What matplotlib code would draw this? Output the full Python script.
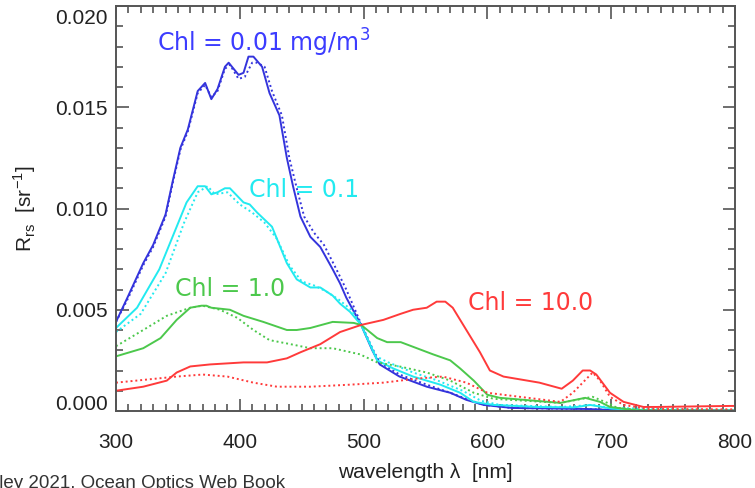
import matplotlib
matplotlib.use("Agg")
import matplotlib.pyplot as plt
from matplotlib.ticker import MultipleLocator
from matplotlib.transforms import ScaledTranslation

# ---------------- data ----------------
wl_blue = [300, 310, 322, 330, 340, 346, 352, 358, 366, 372, 377, 382, 388, 391, 399, 403, 407, 411,
           418, 424, 432, 438, 443, 449, 457, 465, 475, 481, 486, 498, 507, 513, 529, 551, 570,
           583, 597, 620, 680, 700, 800]
rrs_blue = [0.0044, 0.0057, 0.0073, 0.0082, 0.0097, 0.0114, 0.0130, 0.0139, 0.0158, 0.0162, 0.0154,
            0.0159, 0.0170, 0.0172, 0.0166, 0.0167, 0.0175, 0.0175, 0.0170, 0.0157, 0.0146, 0.0125,
            0.0111, 0.0096, 0.0086, 0.0081, 0.0070, 0.0063, 0.0056, 0.00425, 0.0030, 0.0023,
            0.0017, 0.0012, 0.0009, 0.00055, 0.0003, 0.00015, 0.0001, 0.00005, 0.00002]

wl_blue_d = [300, 310, 322, 330, 340, 346, 352, 358, 366, 372, 377, 382, 388, 392, 399, 404, 410,
             414, 420, 426, 434, 440, 446, 452, 460, 468, 478, 486, 498, 507, 513, 529, 551, 570,
             583, 597, 620, 680, 700, 800]
rrs_blue_d = [0.0044, 0.0056, 0.0072, 0.0081, 0.0096, 0.0113, 0.0129, 0.0138, 0.0157, 0.0161,
              0.0155, 0.0158, 0.0169, 0.0171, 0.0164, 0.0165, 0.0172, 0.0172, 0.0170, 0.0158,
              0.0146, 0.0125, 0.0110, 0.0096, 0.0088, 0.0082, 0.0070, 0.0060, 0.0043, 0.0031,
              0.0024, 0.0018, 0.0013, 0.0009, 0.0006, 0.0003, 0.00015, 0.0001, 0.00005, 0.00002]

wl_cyan = [300, 317, 335, 349, 357, 366, 372, 377, 382, 388, 392, 403, 408, 414, 426, 430, 438,
           446, 457, 465, 475, 481, 489, 498, 511, 524, 540, 562, 578, 589, 605, 640, 670, 683,
           700, 720, 800]
rrs_cyan = [0.0041, 0.0051, 0.0070, 0.0091, 0.0103, 0.0111, 0.0111, 0.0107, 0.0108, 0.0110, 0.0110,
            0.0103, 0.0102, 0.0098, 0.0091, 0.0085, 0.0073, 0.0065, 0.0061, 0.0061, 0.0057, 0.0053,
            0.0049, 0.00425, 0.0025, 0.0021, 0.0017, 0.0013, 0.0009, 0.00045, 0.0003, 0.0002,
            0.00018, 0.0003, 0.00012, 0.00005, 0.00003]

wl_cyan_d = [300, 320, 340, 355, 366, 374, 380, 390, 400, 410, 420, 430, 440, 450, 460, 470, 480,
             490, 498, 510, 520, 540, 560, 580, 595, 610, 660, 685, 700, 800]
rrs_cyan_d = [0.0039, 0.0048, 0.0068, 0.0093, 0.0108, 0.0111, 0.0107, 0.0108, 0.0102, 0.0098,
              0.0093, 0.0085, 0.0072, 0.0064, 0.0062, 0.0059, 0.0055, 0.0050, 0.0043, 0.0027,
              0.0024, 0.0019, 0.0015, 0.0010, 0.0005, 0.0003, 0.0002, 0.0003, 0.00015, 0.00003]

wl_green = [300, 322, 336, 349, 360, 369, 373, 377, 392, 403, 419, 438, 446, 457, 475, 492, 498,
            511, 519, 530, 543, 556, 570, 578, 589, 600, 610, 659, 679, 691, 699, 720, 800]
rrs_green = [0.0027, 0.0031, 0.0036, 0.0045, 0.0051, 0.0052, 0.0052, 0.0051, 0.0050, 0.0047,
             0.0044, 0.0040, 0.0040, 0.0041, 0.0044, 0.00435, 0.00425, 0.0036, 0.0034, 0.0034,
             0.0031, 0.0028, 0.0025, 0.0021, 0.0015, 0.0008, 0.00065, 0.0004, 0.00065, 0.00045,
             0.0002, 0.00003, 0.00002]

wl_green_d = [300, 322, 341, 360, 370, 384, 398, 411, 424, 441, 457, 475, 497, 511, 529, 551, 570,
              589, 605, 659, 685, 697, 705, 730, 800]
rrs_green_d = [0.0032, 0.0040, 0.0047, 0.0051, 0.0052, 0.0050, 0.0046, 0.0040, 0.0035, 0.0033,
               0.0031, 0.0031, 0.0028, 0.0024, 0.0022, 0.0019, 0.0015, 0.0009, 0.0006, 0.0004,
               0.0007, 0.0004, 0.00015, 0.00003, 0.00002]

wl_red = [300, 322, 341, 349, 360, 376, 403, 422, 438, 449, 457, 465, 481, 498, 516, 530, 540,
          551, 559, 566, 572, 583, 594, 602, 613, 642, 660, 669, 677, 683, 688, 699, 710, 726,
          737, 796, 800]
rrs_red = [0.0010, 0.0012, 0.0015, 0.0019, 0.0022, 0.0023, 0.0024, 0.0024, 0.0026, 0.0029, 0.0031,
           0.0033, 0.0039, 0.00425, 0.0045, 0.0048, 0.0050, 0.0051, 0.0054, 0.0054, 0.0051,
           0.0040, 0.0029, 0.0020, 0.0017, 0.0014, 0.0011, 0.0015, 0.0020, 0.0020, 0.0018,
           0.0009, 0.00045, 0.0002, 0.0002, 0.00025, 0.00025]

wl_red_d = [300, 349, 370, 390, 411, 430, 457, 489, 516, 543, 564, 583, 600, 659, 669, 677, 685,
            691, 699, 710, 730, 800]
rrs_red_d = [0.0014, 0.0017, 0.0018, 0.0017, 0.0014, 0.0012, 0.0012, 0.0013, 0.0014, 0.0016,
             0.0017, 0.0014, 0.0009, 0.00045, 0.0009, 0.0014, 0.0019, 0.0015, 0.0007, 0.0003,
             0.0001, 0.00008]

labels = ["Chl = 0.01 mg/m$^{3}$", "Chl = 0.1", "Chl = 1.0", "Chl = 10.0"]
x_ticks = [300, 400, 500, 600, 700, 800]
y_ticks = [0.000, 0.005, 0.010, 0.015, 0.020]
credit = "Mobley 2021, Ocean Optics Web Book"

# ---------------- style ----------------
c_blue, c_cyan, c_green, c_red = "#3434dc", "#22eaf0", "#4cc84c", "#ff3a3a"
t_blue = "#3c3cff"
tick_font = "Liberation Sans"
ann_font = "DejaVu Sans"
axcol = "#555555"

fig = plt.figure(figsize=(7.55, 4.88), dpi=100)
ax = fig.add_axes([116 / 755, 1 - 411 / 488, (735 - 116) / 755, (411 - 6) / 488])

lw = 1.4
ax.plot(wl_blue, rrs_blue, color=c_blue, lw=lw)
ax.plot(wl_blue_d, rrs_blue_d, color=c_blue, lw=lw, ls=(0, (1, 1.5)))
ax.plot(wl_cyan, rrs_cyan, color=c_cyan, lw=lw)
ax.plot(wl_cyan_d, rrs_cyan_d, color=c_cyan, lw=lw, ls=(0, (1, 1.5)))
ax.plot(wl_green, rrs_green, color=c_green, lw=lw)
ax.plot(wl_green_d, rrs_green_d, color=c_green, lw=lw, ls=(0, (1, 1.5)))
ax.plot(wl_red, rrs_red, color=c_red, lw=lw)
ax.plot(wl_red_d, rrs_red_d, color=c_red, lw=lw, ls=(0, (1, 1.5)))

ax.set_xlim(300, 800)
ax.set_ylim(0, 0.020)
ax.set_xticks(x_ticks)
ax.set_yticks(y_ticks)
ax.set_xticklabels([str(v) for v in x_ticks])
ax.set_yticklabels([f"{v:.3f}" for v in y_ticks])
ax.xaxis.set_minor_locator(MultipleLocator(10))
ax.yaxis.set_minor_locator(MultipleLocator(0.001))

ax.tick_params(which="both", direction="in", top=True, right=True, color=axcol, width=1.2)
ax.tick_params(which="major", length=9)
ax.tick_params(which="minor", length=5)
ax.tick_params(axis="x", which="major", pad=16, labelsize=15, labelcolor="#222222")
ax.tick_params(axis="y", which="major", pad=6, labelsize=15, labelcolor="#222222")
for lab in ax.get_xticklabels() + ax.get_yticklabels():
    lab.set_fontfamily(tick_font)
# nudge the extreme y labels inward, as in the reference
ylabs = ax.get_yticklabels()
ylabs[0].set_transform(ylabs[0].get_transform() + ScaledTranslation(0, 8 / 100, fig.dpi_scale_trans))
ylabs[-1].set_transform(ylabs[-1].get_transform() + ScaledTranslation(0, -11 / 100, fig.dpi_scale_trans))
for s in ax.spines.values():
    s.set_color(axcol)
    s.set_linewidth(1.4)

ax.set_xlabel("wavelength λ  [nm]", fontsize=15, family=tick_font, color="#222222", labelpad=8)
ax.set_ylabel("R$_{\\mathregular{rs}}$  [sr$^{\\mathregular{-1}}$]", fontsize=15,
              family=tick_font, color="#222222", labelpad=12)

# annotations
fs = 17
fig.text(157 / 755, 1 - 43 / 488, labels[0], color=t_blue, fontsize=fs, family=ann_font,
         ha="left", va="center")
fig.text(249 / 755, 1 - 190 / 488, labels[1], color=c_cyan, fontsize=fs, family=ann_font,
         ha="left", va="center")
fig.text(175 / 755, 1 - 289 / 488, labels[2], color=c_green, fontsize=fs, family=ann_font,
         ha="left", va="center")
fig.text(468 / 755, 1 - 303 / 488, labels[3], color=c_red, fontsize=fs, family=ann_font,
         ha="left", va="center")

# credit line at bottom-left, clipped by the figure edge as in the reference
fig.text(-37 / 755, 1 - 475 / 488, credit, color="#333333",
         fontsize=13.5, family=tick_font, ha="left", va="top")

fig.savefig("out.png", dpi=100)
